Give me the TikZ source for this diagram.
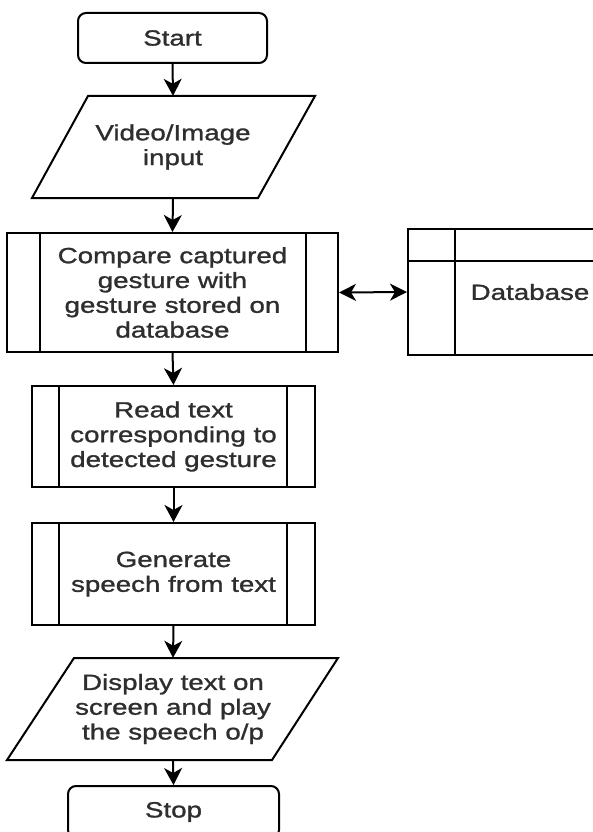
\documentclass[tikz,border=0pt]{standalone}
\usepackage{fontspec}
\setmainfont{Liberation Sans}[FakeStretch=1.26,FakeBold=1.2]
\usetikzlibrary{arrows.meta,calc}
\begin{document}
\begin{tikzpicture}[x=1pt,y=-1pt,
  lw/.style={line width=2pt},
  txt/.style={font=\fontsize{22}{24.8}\selectfont, align=center, text=black!82},
  term/.style={txt, lw, draw, rounded corners=8pt, inner sep=0pt},
  proc/.style={txt, lw, draw, inner sep=0pt},
  iobox/.style={txt, inner sep=0pt},
  arr/.style={lw, -{Stealth[length=17pt,width=18pt,inset=5pt]}},
  darr/.style={lw, {Stealth[length=17pt,width=17pt,inset=5pt]}-{Stealth[length=17pt,width=17pt,inset=5pt]}}
]
\useasboundingbox (0,0) rectangle (593,832);
\clip (0,0) rectangle (593,832);
\fill[white] (0,0) rectangle (593,832);

% nodes
\node[term, minimum width=189pt, minimum height=50pt] (start) at (172.5,38) {Start};
\node[iobox, minimum width=227pt, minimum height=102pt] (video) at (173,147) {Video/Image\\input};
\node[proc, minimum width=331pt, minimum height=119pt] (compare) at (172.5,292.5) {Compare captured\\gesture with\\gesture stored on\\database};
\node[proc, minimum width=240pt, minimum height=126pt] (db) at (528,292) {};
\node[txt] (dbtext) at (530,292) {Database};
\node[proc, minimum width=283pt, minimum height=101pt] (read) at (173.5,436.5) {Read text\\corresponding to\\detected gesture};
\node[proc, minimum width=283pt, minimum height=102pt] (gen) at (173.5,574) {Generate\\speech from text};
\node[iobox, minimum width=264pt, minimum height=102pt] (disp) at (173,709) {Display text on\\screen and play\\the speech o/p};
\node[term, minimum width=211pt, minimum height=52pt] (stop) at (173.5,812) {Stop};

% parallelograms
\draw[lw] ([shift={(-85,-51)}]video.center) -- ([shift={(142,-51)}]video.center)
  -- ([shift={(85,51)}]video.center) -- ([shift={(-141,51)}]video.center) -- cycle;
\draw[lw] ([shift={(-99,-51)}]disp.center) -- ([shift={(165,-51)}]disp.center)
  -- ([shift={(99,51)}]disp.center) -- ([shift={(-166,51)}]disp.center) -- cycle;

% predefined-process inner lines
\draw[lw] ([xshift=34pt]compare.north west) -- ([xshift=34pt]compare.south west);
\draw[lw] ([xshift=-33pt]compare.north east) -- ([xshift=-33pt]compare.south east);
\draw[lw] ([xshift=28pt]read.north west) -- ([xshift=28pt]read.south west);
\draw[lw] ([xshift=-29pt]read.north east) -- ([xshift=-29pt]read.south east);
\draw[lw] ([xshift=28pt]gen.north west) -- ([xshift=28pt]gen.south west);
\draw[lw] ([xshift=-29pt]gen.north east) -- ([xshift=-29pt]gen.south east);

% database internal lines
\draw[lw] ([xshift=48pt]db.north west) -- ([xshift=48pt]db.south west);
\draw[lw] ([yshift=-33pt]db.north west) -- ([yshift=-33pt]db.north east);

% connectors
\draw[arr] (start.south) -- (video.north);
\draw[arr] (video.south) -- (compare.north);
\draw[darr] (compare.east) -- (db.west);
\draw[arr] (compare.south) -- (read.north);
\draw[arr] (read.south) -- (gen.north);
\draw[arr] (gen.south) -- (disp.north);
\draw[arr] (disp.south) -- (stop.north);
\end{tikzpicture}
\end{document}
